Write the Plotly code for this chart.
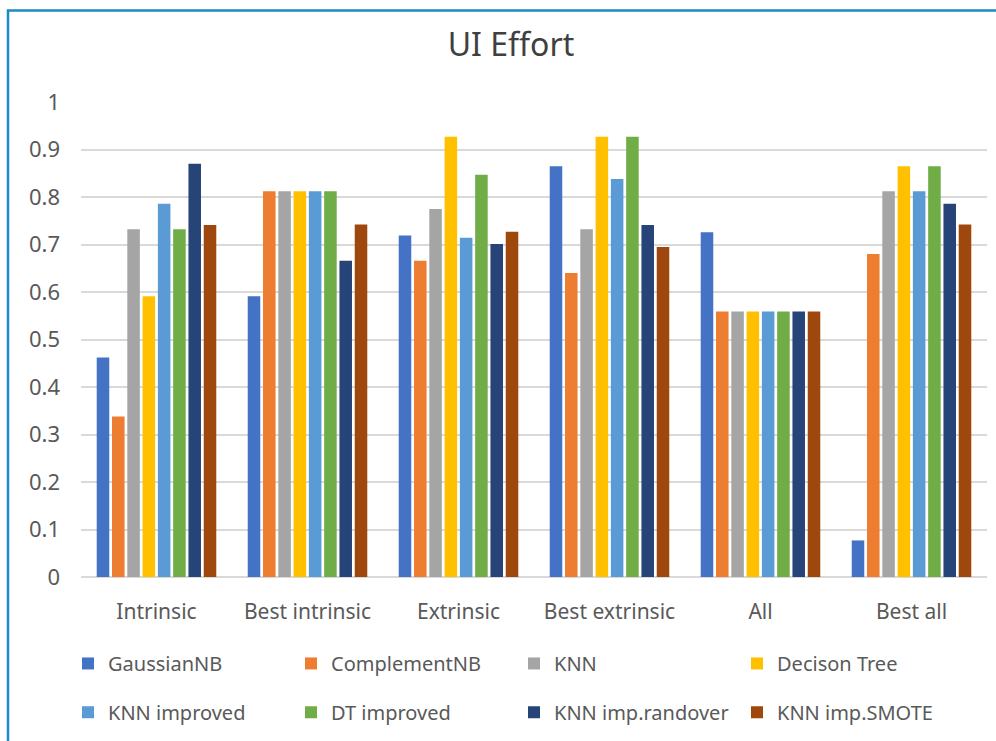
import plotly.graph_objects as go

categories = ["Intrinsic", "Best intrinsic", "Extrinsic", "Best extrinsic", "All", "Best all"]
series_names = ["GaussianNB", "ComplementNB", "KNN", "Decison Tree",
                "KNN improved", "DT improved", "KNN imp.randover", "KNN imp.SMOTE"]

gaussian_nb   = [0.462, 0.591, 0.719, 0.865, 0.726, 0.077]
complement_nb = [0.338, 0.812, 0.666, 0.640, 0.559, 0.680]
knn           = [0.732, 0.812, 0.775, 0.732, 0.559, 0.812]
decision_tree = [0.591, 0.812, 0.927, 0.927, 0.559, 0.865]
knn_improved  = [0.786, 0.812, 0.714, 0.838, 0.559, 0.812]
dt_improved   = [0.732, 0.812, 0.847, 0.927, 0.559, 0.865]
knn_randover  = [0.870, 0.666, 0.701, 0.741, 0.559, 0.786]
knn_smote     = [0.741, 0.742, 0.727, 0.695, 0.559, 0.742]

values = [gaussian_nb, complement_nb, knn, decision_tree,
          knn_improved, dt_improved, knn_randover, knn_smote]
colors = ["#4472C4", "#ED7D31", "#A5A5A5", "#FFC000",
          "#5B9BD5", "#70AD47", "#264478", "#9E480E"]

W, H = 996, 741
L, R, T, B = 81, 9, 102, 161
pw, ph = W - L - R, H - T - B

def px_x(x):
    return (x - L) / pw

def px_y(y):
    return (H - B - y) / ph

FONT = "Noto Sans"
fig = go.Figure()
for i, (name, vals, col) in enumerate(zip(series_names, values, colors)):
    fig.add_trace(go.Bar(
        x=categories, y=vals, name=name, marker_color=col,
        marker_line_width=0,
        legend="legend" if i < 4 else "legend2",
    ))

legend_common = dict(
    orientation="h", xanchor="left", yanchor="middle",
    font=dict(family=FONT, size=20, color="#595959"),
    entrywidth=178, entrywidthmode="pixels",
    bgcolor="rgba(0,0,0,0)", itemclick=False,
)

fig.update_layout(
    width=W, height=H,
    margin=dict(l=L, r=R, t=T, b=B),
    paper_bgcolor="white", plot_bgcolor="white",
    barmode="group", bargap=0.19, bargroupgap=0.18,
    title=dict(text="UI Effort", x=0.513, xanchor="center",
               y=1 - 45 / H, yanchor="middle", yref="container",
               font=dict(family=FONT, size=32, color="#404040")),
    font=dict(family=FONT, color="#595959"),
    legend=dict(x=px_x(68), y=px_y(667), **legend_common),
    legend2=dict(x=px_x(68), y=px_y(716), **legend_common),
    showlegend=True,
    xaxis=dict(showgrid=False, showline=False, ticks="",
               tickfont=dict(family=FONT, size=21, color="#595959"),
               ticklabelstandoff=20),
    yaxis=dict(range=[0, 1], dtick=0.1, tickformat="~g",
               showgrid=True, gridcolor="#D9D9D9", gridwidth=1.5,
               zeroline=True, zerolinecolor="#D9D9D9", zerolinewidth=1.5,
               showline=False, ticks="",
               tickfont=dict(family=FONT, size=22, color="#595959"),
               ticklabelstandoff=20),
    shapes=[dict(type="rect", xref="paper", yref="paper",
                 x0=px_x(8), x1=px_x(1010), y0=px_y(780), y1=px_y(10),
                 line=dict(color="#1C8AC4", width=2.5), fillcolor="rgba(0,0,0,0)",
                 layer="below")],
)

fig.write_html("out.html")
